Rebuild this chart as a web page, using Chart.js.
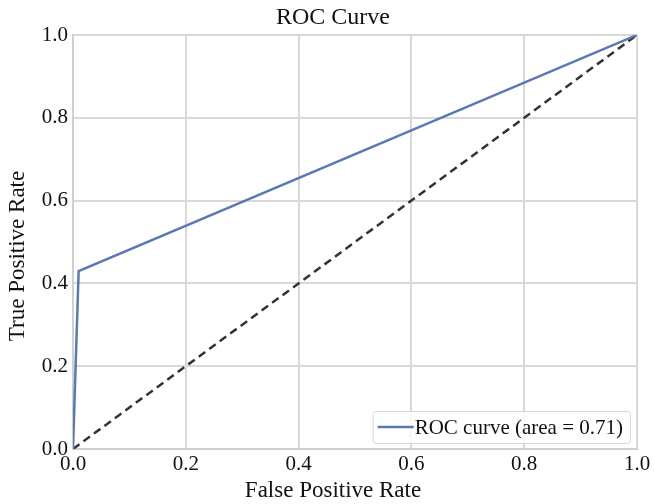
<!DOCTYPE html>
<html>
<head>
<meta charset="utf-8">
<script src="https://cdn.jsdelivr.net/npm/chart.js@4.4.1/dist/chart.umd.min.js"></script>
<style>
  html, body { margin: 0; padding: 0; background: #fff; }
  #wrap { width: 654px; height: 504px; }
</style>
</head>
<body>
<div id="wrap"><canvas id="roc"></canvas></div>
<script>
// ROC points (false positive rate, true positive rate)
const fpr = [0.0, 0.01, 1.0];
const tpr = [0.0, 0.43, 1.0];
const chanceX = [0, 1];
const chanceY = [0, 1];
const aucLabel = 'ROC curve (area = 0.71)';
const tickValues = [0, 0.2, 0.4, 0.6, 0.8, 1.0];
const titleText = 'ROC Curve';
const xTitle = 'False Positive Rate';
const yTitle = 'True Positive Rate';

const serif = '"Liberation Serif", "DejaVu Serif", serif';
const blue = '#5a78b4';

// figure-level texts: centred on the whole canvas, not on the plot area
const figureText = {
  id: 'figureText',
  afterDraw(chart) {
    const { ctx, width } = chart;
    const cx = width / 2 + 6;
    ctx.save();
    ctx.fillStyle = '#111';
    ctx.textAlign = 'center';
    ctx.textBaseline = 'middle';
    ctx.font = '24px ' + serif;
    ctx.fillText(titleText, cx, 18);
    ctx.font = '23px ' + serif;
    ctx.fillText(xTitle, cx, 491);
    ctx.translate(18, 256);
    ctx.rotate(-Math.PI / 2);
    ctx.fillText(yTitle, 0, 0);
    ctx.restore();
  }
};

// legend box in the lower right corner of the plot
const innerLegend = {
  id: 'innerLegend',
  afterDatasetsDraw(chart) {
    const { ctx, chartArea } = chart;
    ctx.save();
    ctx.font = '21px ' + serif;
    const textW = ctx.measureText(aucLabel).width;
    const w = textW + 49, h = 32;
    const x = chartArea.right - w - 7, y = chartArea.bottom - h - 6;
    ctx.fillStyle = 'rgba(255,255,255,0.85)';
    ctx.strokeStyle = '#d6d6d6';
    ctx.lineWidth = 1;
    ctx.beginPath();
    ctx.roundRect(x + 0.5, y + 0.5, w, h, 3);
    ctx.fill();
    ctx.stroke();
    ctx.strokeStyle = blue;
    ctx.lineWidth = 2.5;
    ctx.beginPath();
    ctx.moveTo(x + 5, y + h / 2);
    ctx.lineTo(x + 41, y + h / 2);
    ctx.stroke();
    ctx.fillStyle = '#111';
    ctx.textBaseline = 'middle';
    ctx.fillText(aucLabel, x + 42, y + h / 2 + 1);
    ctx.restore();
  }
};

new Chart(document.getElementById('roc'), {
  type: 'scatter',
  data: {
    datasets: [
      {
        label: aucLabel,
        data: fpr.map((v, i) => ({ x: v, y: tpr[i] })),
        showLine: true,
        borderColor: blue,
        borderWidth: 2.5,
        pointRadius: 0,
        tension: 0
      },
      {
        label: 'chance',
        data: chanceX.map((v, i) => ({ x: v, y: chanceY[i] })),
        showLine: true,
        borderColor: '#333',
        borderWidth: 2.5,
        borderDash: [8, 5],
        pointRadius: 0
      }
    ]
  },
  options: {
    responsive: true,
    maintainAspectRatio: false,
    animation: false,
    layout: { padding: { left: 0, right: 17, top: 35, bottom: 0 } },
    plugins: {
      legend: { display: false },
      tooltip: { enabled: false },
      title: { display: false }
    },
    scales: {
      x: {
        type: 'linear',
        min: 0,
        max: 1,
        afterBuildTicks: s => { s.ticks = tickValues.map(v => ({ value: v })); },
        afterFit: s => { s.height = 55; },
        ticks: {
          color: '#111',
          padding: 3,
          maxRotation: 0,
          font: { family: serif, size: 21 },
          callback: v => v.toFixed(1)
        },
        grid: { color: '#d8d8d8', lineWidth: 2, drawTicks: false },
        border: { color: '#d0d0d0', width: 2 }
      },
      y: {
        type: 'linear',
        min: 0,
        max: 1,
        afterBuildTicks: s => { s.ticks = tickValues.map(v => ({ value: v })); },
        afterFit: s => { s.width = 73; },
        ticks: {
          color: '#111',
          padding: 5,
          font: { family: serif, size: 21 },
          callback: v => v.toFixed(1)
        },
        grid: { color: '#d8d8d8', lineWidth: 2, drawTicks: false },
        border: { color: '#d0d0d0', width: 2 }
      }
    }
  },
  plugins: [innerLegend, figureText]
});
</script>
</body>
</html>
